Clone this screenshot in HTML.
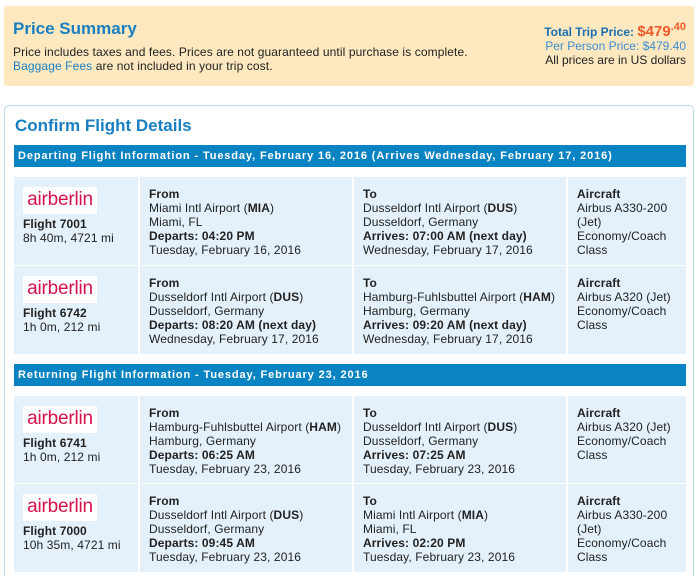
<!DOCTYPE html><html><head><style>
html{overflow:hidden;height:576px}
body{margin:0;width:699px;height:576px;background:#fff;font-family:"Liberation Sans",Arial,sans-serif;font-size:12px;color:#222;position:relative;overflow:hidden}
.a{position:absolute}
.ps{left:4px;top:6px;width:690px;height:80px;background:#fde8c0;border-radius:3px}
.card{left:4px;top:105px;width:688px;height:480px;border:1px solid #b7dbe9;border-bottom:none;border-radius:5px 5px 0 0}
h2{margin:0;color:#1a7fc0;font-size:17px;font-weight:bold}
.bar{left:14px;width:672px;height:22px;background:#0a83c3;color:#fff;font-weight:bold;font-size:11px;letter-spacing:.88px;line-height:23px;padding-left:4px;box-sizing:border-box;white-space:nowrap;overflow:hidden}
.c{background:#e4f1fa;line-height:14px;padding-top:10px;box-sizing:border-box;padding-left:9px;letter-spacing:.1px}
.logo{width:74px;height:27px;background:#fff;color:#d4134a;font-size:19px;line-height:26px;text-align:center;margin-bottom:3px;letter-spacing:-.2px}
b{font-weight:bold}
</style></head><body>
<div class="a ps"></div>
<h2 class="a" style="left:13px;top:19px">Price Summary</h2>
<div class="a" style="left:13px;top:45px;line-height:14px;letter-spacing:.1px">Price includes taxes and fees. Prices are not guaranteed until purchase is complete.<br><span style="color:#1a7fc0">Baggage Fees</span> are not included in your trip cost.</div>
<div class="a" style="right:13px;top:20px;text-align:right;line-height:14px"><span style="color:#1a6fb0;font-weight:bold">Total Trip Price: </span><span style="color:#f05a28;font-weight:bold;font-size:15px">$479<sup style="font-size:11px">.40</sup></span><br><span style="color:#3d8cd0">Per Person Price: $479.40</span><br>All prices are in US dollars</div>
<div class="a card" style="height:471px"></div>
<h2 class="a" style="left:15px;top:116px">Confirm Flight Details</h2>
<div class="a bar" style="top:145px">Departing Flight Information - Tuesday, February 16, 2016 (Arrives Wednesday, February 17, 2016)</div>
<div class="a bar" style="top:364px">Returning Flight Information - Tuesday, February 23, 2016</div>

<div class="a c" style="left:14px;top:177px;width:124px;height:88px"><div class="logo">airberlin</div><b>Flight 7001</b><br>8h 40m, 4721 mi</div>
<div class="a c" style="left:140px;top:177px;width:212px;height:88px"><b>From</b><br>Miami Intl Airport (<b>MIA</b>)<br>Miami, FL<br><b>Departs: 04:20 PM</b><br>Tuesday, February 16, 2016</div>
<div class="a c" style="left:354px;top:177px;width:212px;height:88px"><b>To</b><br>Dusseldorf Intl Airport (<b>DUS</b>)<br>Dusseldorf, Germany<br><b>Arrives: 07:00 AM (next day)</b><br>Wednesday, February 17, 2016</div>
<div class="a c" style="left:568px;top:177px;width:118px;height:88px"><b>Aircraft</b><br>Airbus A330-200<br>(Jet)<br>Economy/Coach<br>Class</div>

<div class="a c" style="left:14px;top:266px;width:124px;height:88px"><div class="logo">airberlin</div><b>Flight 6742</b><br>1h 0m, 212 mi</div>
<div class="a c" style="left:140px;top:266px;width:212px;height:88px"><b>From</b><br>Dusseldorf Intl Airport (<b>DUS</b>)<br>Dusseldorf, Germany<br><b>Departs: 08:20 AM (next day)</b><br>Wednesday, February 17, 2016</div>
<div class="a c" style="left:354px;top:266px;width:212px;height:88px"><b>To</b><br>Hamburg-Fuhlsbuttel Airport (<b>HAM</b>)<br>Hamburg, Germany<br><b>Arrives: 09:20 AM (next day)</b><br>Wednesday, February 17, 2016</div>
<div class="a c" style="left:568px;top:266px;width:118px;height:88px"><b>Aircraft</b><br>Airbus A320 (Jet)<br>Economy/Coach<br>Class</div>

<div class="a c" style="left:14px;top:396px;width:124px;height:87px"><div class="logo">airberlin</div><b>Flight 6741</b><br>1h 0m, 212 mi</div>
<div class="a c" style="left:140px;top:396px;width:212px;height:87px"><b>From</b><br>Hamburg-Fuhlsbuttel Airport (<b>HAM</b>)<br>Hamburg, Germany<br><b>Departs: 06:25 AM</b><br>Tuesday, February 23, 2016</div>
<div class="a c" style="left:354px;top:396px;width:212px;height:87px"><b>To</b><br>Dusseldorf Intl Airport (<b>DUS</b>)<br>Dusseldorf, Germany<br><b>Arrives: 07:25 AM</b><br>Tuesday, February 23, 2016</div>
<div class="a c" style="left:568px;top:396px;width:118px;height:87px"><b>Aircraft</b><br>Airbus A320 (Jet)<br>Economy/Coach<br>Class</div>

<div class="a c" style="left:14px;top:484px;width:124px;height:88px"><div class="logo">airberlin</div><b>Flight 7000</b><br>10h 35m, 4721 mi</div>
<div class="a c" style="left:140px;top:484px;width:212px;height:88px"><b>From</b><br>Dusseldorf Intl Airport (<b>DUS</b>)<br>Dusseldorf, Germany<br><b>Departs: 09:45 AM</b><br>Tuesday, February 23, 2016</div>
<div class="a c" style="left:354px;top:484px;width:212px;height:88px"><b>To</b><br>Miami Intl Airport (<b>MIA</b>)<br>Miami, FL<br><b>Arrives: 02:20 PM</b><br>Tuesday, February 23, 2016</div>
<div class="a c" style="left:568px;top:484px;width:118px;height:88px"><b>Aircraft</b><br>Airbus A330-200<br>(Jet)<br>Economy/Coach<br>Class</div>
</body></html>
